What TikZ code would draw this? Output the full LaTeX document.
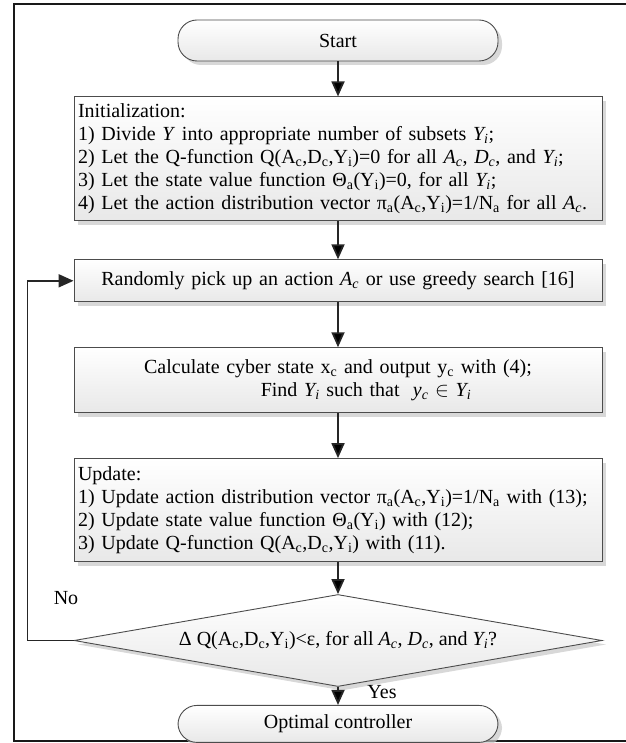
\documentclass[tikz,border=0pt]{standalone}
\usepackage{fontspec}
\setmainfont{Liberation Serif}
\usetikzlibrary{positioning,shapes.geometric,shadows,arrows.meta}
\newcommand{\sbs}[1]{\textsubscript{#1}}
\newcommand{\isb}[2]{\textit{#1\textsubscript{#2}}}

\begin{document}
\begin{tikzpicture}[x=1pt,y=1pt,
		font=\fontsize{20}{23}\selectfont,
		>={Triangle[length=15pt,width=13pt]},
		look/.style={draw=black!70,line width=0.9pt,top color=white,bottom color=black!9,
			drop shadow={shadow xshift=4pt,shadow yshift=-4pt,fill=black!22,opacity=0.7}},
		stepbox/.style={look,shape=rectangle,text width=520pt,inner xsep=4pt,inner ysep=4pt},
		termbox/.style={look,shape=rectangle,rounded corners=19pt,minimum width=320pt,minimum height=39pt,inner sep=0pt},
		testbox/.style={look,shape=diamond,aspect=5.74,minimum width=528pt,minimum height=92pt,inner sep=0pt},
		flow/.style={->,line width=1.8pt,draw=black!85}]
	\useasboundingbox (0,0) rectangle (625,-743);
	\draw[line width=2.5pt,black!90] (640,-4) -| (14,-741) -- (640,-741);

	\node(start) [termbox,minimum height=41pt] at (338,-40.5) {Start};
	\node(init) [stepbox,below=35pt of start,minimum height=124pt,align=left] {Initialization:\\
		1) Divide \textit{Y} into appropriate number of subsets \isb{Y}{i};\\
		2) Let the Q-function Q(A\sbs{c},D\sbs{c},Y\sbs{i})=0 for all \isb{A}{c}, \isb{D}{c}, and \isb{Y}{i};\\
		3) Let the state value function Θ\sbs{a}(Y\sbs{i})=0, for all \isb{Y}{i};\\
		4) Let the action distribution vector π\sbs{a}(A\sbs{c},Y\sbs{i})=1/N\sbs{a} for all \isb{A}{c}.};
	\node(pick) [stepbox,below=38pt of init,minimum height=42pt,align=center] {Randomly pick up an action \isb{A}{c} or use greedy search [16]};
	\node(calc) [stepbox,below=45pt of pick,minimum height=65pt,align=center] {Calculate cyber state x\sbs{c} and output y\sbs{c} with (4);\\
		\hspace*{56pt}Find \isb{Y}{i} such that \ \isb{y}{c}\ $\in$ \isb{Y}{i}};
	\node(upd) [stepbox,below=45pt of calc,minimum height=103pt,align=left] {Update:\\
		1) Update action distribution vector π\sbs{a}(A\sbs{c},Y\sbs{i})=1/N\sbs{a} with (13);\\
		2) Update state value function Θ\sbs{a}(Y\sbs{i}) with (12);\\
		3) Update Q-function Q(A\sbs{c},D\sbs{c},Y\sbs{i}) with (11).};
	\node(test) [testbox,below=32pt of upd] {Δ Q(A\sbs{c},D\sbs{c},Y\sbs{i})<ε, for all \isb{A}{c}, \isb{D}{c}, and \isb{Y}{i}?};
	\node(stop) [termbox,below=18pt of test,minimum height=37pt] {Optimal controller};

	\node(no) at (66,-598) {No};
	\node(yes) at (382,-692) {Yes};

	\path[flow]
		(start) edge (init)
		(init) edge (pick)
		(pick) edge (calc)
		(calc) edge (upd)
		(upd) edge (test)
		(test) edge (stop);
	\draw[flow] (test.west) -- ++(-46,0) |- (pick.west);
\end{tikzpicture}
\end{document}
